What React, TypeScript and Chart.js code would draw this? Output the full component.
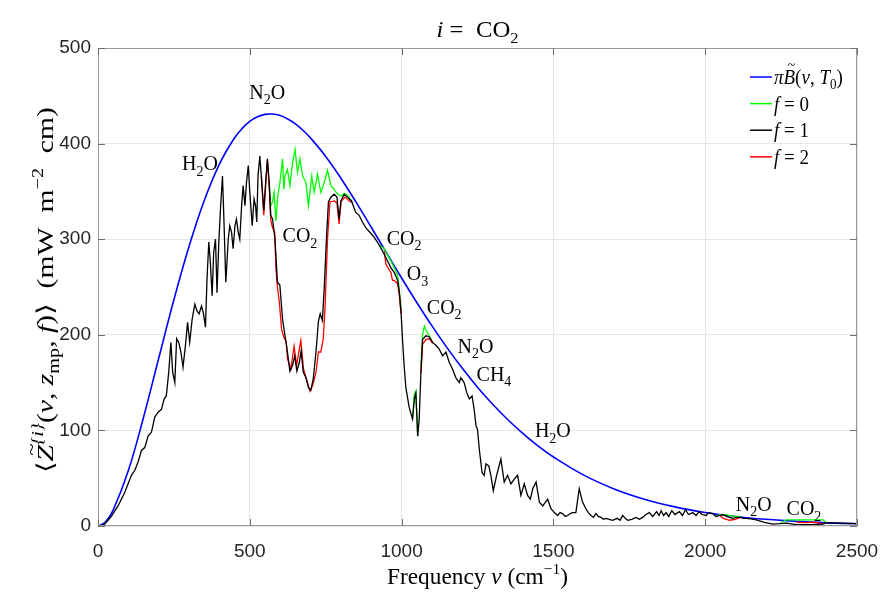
import React, { useEffect, useRef } from 'react';
import { Chart, registerables } from 'chart.js';

Chart.register(...registerables);

// Blackbody reference curve  πB(ν,T0)
const planckNu = [0, 25, 50, 100, 150, 200, 250, 300, 350, 400, 450, 475, 500, 525, 550, 575, 600, 625, 650, 675, 700, 750, 800, 850, 900, 950, 1000, 1050, 1100, 1150, 1200, 1250, 1300, 1350, 1400, 1450, 1500, 1600, 1700, 1800, 1900, 2000, 2100, 2200, 2300, 2400, 2500];
const planckVal = [0, 4.4, 16.6, 58.0, 113.8, 175.4, 236.6, 292.6, 340.5, 378.6, 406.1, 415.9, 423.2, 428.0, 430.6, 430.9, 429.3, 425.7, 420.6, 414.0, 405.9, 386.6, 363.8, 338.8, 312.5, 285.8, 259.4, 233.8, 209.3, 186.3, 164.9, 145.2, 127.3, 111.1, 96.6, 83.6, 72.2, 53.2, 38.8, 28.0, 20.0, 14.2, 10.0, 7.0, 4.8, 3.3, 2.3];

// f = 1 spectrum
const f1Nu = [0, 10, 22, 44, 66, 88, 110, 121, 132, 143, 154, 165, 176, 187, 198, 209, 218, 225, 233, 240, 246, 253, 259, 266, 273, 280, 288, 295, 302, 310, 319, 326, 333, 341, 347, 354, 359, 365, 370, 376, 381, 387, 392, 398, 404, 410, 415, 421, 429, 434, 440, 445, 451, 456, 462, 467, 473, 478, 484, 489, 495, 500, 508, 514, 519, 523, 527, 533, 538, 546, 553, 558, 564, 569, 575, 583, 591, 599, 608, 616, 624, 632, 641, 648, 655, 663, 669, 676, 685, 693, 701, 709, 718, 726, 732, 739, 745, 753, 759, 767, 778, 787, 794, 800, 811, 822, 835, 849, 860, 871, 882, 899, 910, 926, 943, 954, 965, 976, 987, 992, 998, 1003, 1009, 1014, 1025, 1036, 1042, 1047, 1053, 1058, 1064, 1069, 1080, 1091, 1102, 1113, 1124, 1135, 1146, 1157, 1168, 1179, 1190, 1195, 1206, 1214, 1223, 1232, 1239, 1245, 1250, 1256, 1265, 1272, 1278, 1287, 1294, 1302, 1313, 1327, 1338, 1349, 1360, 1371, 1382, 1393, 1404, 1415, 1424, 1432, 1443, 1454, 1465, 1481, 1492, 1503, 1514, 1522, 1530, 1539, 1547, 1555, 1563, 1574, 1585, 1596, 1607, 1615, 1624, 1632, 1640, 1648, 1657, 1665, 1673, 1684, 1695, 1710, 1720, 1728, 1737, 1745, 1758, 1772, 1783, 1794, 1805, 1816, 1827, 1840, 1848, 1855, 1863, 1871, 1880, 1890, 1900, 1915, 1925, 1935, 1945, 1959, 1970, 1980, 1990, 2003, 2012, 2025, 2035, 2047, 2058, 2070, 2080, 2091, 2103, 2115, 2125, 2135, 2150, 2168, 2195, 2223, 2245, 2267, 2300, 2350, 2388, 2400, 2450, 2500];
const f1Val = [0, 0.5, 2, 10, 21, 35, 53, 58, 67, 79, 82, 94, 98, 114, 119, 122, 133, 136, 161, 192, 161, 150, 196, 192, 182, 166, 189, 213, 192, 216, 232, 225, 222, 230, 223, 208, 258, 297, 276, 241, 286, 300, 244, 297, 335, 366, 318, 255, 300, 314, 307, 290, 314, 321, 307, 300, 335, 356, 335, 359, 377, 349, 314, 342, 335, 318, 366, 387, 366, 330, 363, 384, 359, 325, 321, 300, 255, 252, 216, 199, 182, 162, 168, 178, 162, 171, 183, 161, 155, 145, 142, 154, 182, 214, 222, 215, 248, 304, 339, 344, 347, 344, 321, 340, 347, 344, 340, 328, 325, 318, 312, 306, 302, 294, 284, 277, 270, 265, 257, 246, 225, 195, 165, 145, 124, 112, 133, 139, 94, 112, 164, 195, 199, 198, 192, 189, 185, 178, 182, 171, 164, 155, 150, 155, 150, 140, 133, 136, 122, 105, 101, 80, 56, 53, 65, 63, 53, 37, 53, 70, 46, 53, 44, 49, 53, 32, 44, 32, 28, 39, 46, 25, 21, 28, 18, 14, 11, 14, 13, 10, 11, 13, 14, 14, 39, 25, 18, 14, 11, 9, 13, 10, 9, 7, 8, 7, 6, 8, 6, 11, 8, 6, 7, 9, 7, 9, 12, 14, 10, 15, 11, 16, 11, 14, 10, 16, 12, 15, 11, 17, 12, 14, 11, 15, 12, 11, 14, 13, 10, 11, 12, 10, 9, 8, 9, 9, 8, 8, 7.5, 6.5, 3.8, 2, 2.4, 3, 1.5, 1.5, 2, 3.5, 3, 2.5];

// f = 0 spectrum (only where it departs from f = 1; null = gap)
const f0Nu = [564, 569, 575, 580, 586, 592, 599, 608, 612, 616, 624, 632, 641, 649, 657, 665, 674, 685, 693, 704, 712, 723, 734, 745, 756, 767, 778, 787, 800, 811, 822, 835, 900, 926, 943, 954, 965, 976, 987, 992, 998, 1020, 1036, 1042, 1047, 1053, 1060, 1064, 1069, 1075, 1080, 1091, 1102, 1500, 2035, 2047, 2070, 2091, 2115, 2200, 2245, 2267, 2300, 2350, 2388, 2400];
const f0Val = [359, 335, 339, 349, 319, 345, 359, 384, 352, 366, 373, 356, 380, 394, 370, 384, 366, 359, 335, 366, 349, 368, 349, 359, 372, 356, 352, 348, 345, 348, 346, 340, null, 294, 290, 283, 277, 270, 262, 248, 225, null, 112, 138, 141, 94, null, 168, 200, 209, 205, 199, 192, null, 10, 12, 12, 10, 10, null, 2.4, 6.5, 6.5, 6.5, 6.5, 3.5];

// f = 2 spectrum (only where it departs from f = 1; null = gap)
const f2Nu = [538, 546, 553, 558, 564, 569, 575, 582, 586, 591, 597, 605, 613, 620, 624, 635, 646, 654, 668, 677, 690, 698, 707, 718, 726, 734, 742, 748, 756, 764, 778, 787, 794, 801, 814, 827, 840, 900, 943, 948, 965, 970, 976, 987, 992, 998, 1020, 1064, 1069, 1080, 1091, 1102, 1500, 2047, 2060, 2080, 2100, 2115, 2200, 2300, 2330, 2360, 2388];
const f2Val = [366, 325, 360, 382, 355, 320, 312, 307, 270, 250, 235, 205, 197, 193, 175, 164, 188, 168, 194, 164, 150, 141, 147, 161, 182, 182, 196, 230, 300, 339, 340, 338, 316, 340, 344, 340, 338, null, 287, 274, 265, 257, 257, 253, 243, 222, null, 160, 190, 195, 196, 191, null, 11, 8, 6, 7, 9, null, 4, 3.5, 4, 2];

const xTicks = [0, 500, 1000, 1500, 2000, 2500];
const yTicks = [0, 100, 200, 300, 400, 500];

const annotations: { label: string; nu: number; val: number }[] = [
  { label: 'H2O', nu: 277, val: 372 },
  { label: 'N2O', nu: 498, val: 447 },
  { label: 'CO2', nu: 608, val: 297 },
  { label: 'CO2', nu: 951, val: 294 },
  { label: 'O3', nu: 1017, val: 257 },
  { label: 'CO2', nu: 1083, val: 222 },
  { label: 'N2O', nu: 1184, val: 181 },
  { label: 'CH4', nu: 1247, val: 152 },
  { label: 'H2O', nu: 1439, val: 93 },
  { label: 'N2O', nu: 2101, val: 16 },
  { label: 'CO2', nu: 2268, val: 11.5 },
];

const COLORS = { planck: '#0000ff', f0: '#00ff00', f1: '#000000', f2: '#ff0000' };

type Seg = { t: string; it?: boolean; pos?: 'sub' | 'sup'; tilde?: boolean };
const SERIF = '"Liberation Serif", "DejaVu Serif", "Times New Roman", serif';

function formula(s: string): Seg[] {
  const out: Seg[] = [];
  for (const ch of s) {
    if (/[0-9]/.test(ch)) out.push({ t: ch, pos: 'sub' });
    else out.push({ t: ch });
  }
  return out;
}

function drawRich(ctx: CanvasRenderingContext2D, segs: Seg[], x: number, y: number, size: number, align: 'left' | 'center', stretch = 1.1, targetW?: number) {
  const font = (s: Seg) => `${s.it ? 'italic ' : ''}${s.pos ? Math.round(size * 0.68) : size}px ${SERIF}`;
  let total = 0;
  const ws = segs.map((s) => {
    ctx.font = font(s);
    const w = ctx.measureText(s.t).width;
    total += w;
    return w;
  });
  const sx = targetW ? targetW / total : 1;
  ctx.save();
  ctx.translate(x, y);
  ctx.scale(sx, stretch);
  ctx.textBaseline = 'alphabetic';
  ctx.textAlign = 'left';
  let cx = align === 'center' ? -total / 2 : 0;
  segs.forEach((s, i) => {
    ctx.font = font(s);
    const dy = s.pos === 'sub' ? size * 0.25 : s.pos === 'sup' ? -size * 0.42 : 0;
    ctx.fillText(s.t, cx, dy);
    if (s.tilde) {
      ctx.font = `${Math.round(size * 0.75)}px ${SERIF}`;
      const tw = ctx.measureText('~').width;
      ctx.fillText('~', cx + ws[i] / 2 - tw / 2 + size * 0.12, dy - size * 0.66);
    }
    cx += ws[i];
  });
  ctx.restore();
}

const overlayPlugin = {
  id: 'overlay',
  afterDraw(chart: any) {
    const ctx: CanvasRenderingContext2D = chart.ctx;
    const xs = chart.scales.x;
    const ys = chart.scales.y;
    const a = chart.chartArea;
    ctx.save();
    // frame
    ctx.strokeStyle = '#9a9a9a';
    ctx.lineWidth = 1;
    ctx.strokeRect(Math.round(a.left) + 0.5, Math.round(a.top) + 0.5, Math.round(a.right - a.left) - 1, Math.round(a.bottom - a.top) - 1);
    // inward tick marks
    ctx.strokeStyle = '#6e6e6e';
    ctx.beginPath();
    for (const v of xTicks) {
      const px = Math.round(xs.getPixelForValue(v)) + 0.5;
      ctx.moveTo(px, a.bottom);
      ctx.lineTo(px, a.bottom - 7);
      ctx.moveTo(px, a.top);
      ctx.lineTo(px, a.top + 7);
    }
    for (const v of yTicks) {
      const py = Math.round(ys.getPixelForValue(v)) + 0.5;
      ctx.moveTo(a.left, py);
      ctx.lineTo(a.left + 7, py);
      ctx.moveTo(a.right, py);
      ctx.lineTo(a.right - 7, py);
    }
    ctx.stroke();

    ctx.fillStyle = '#000';
    // molecule annotations
    for (const an of annotations) {
      drawRich(ctx, formula(an.label), xs.getPixelForValue(an.nu), ys.getPixelForValue(an.val), 20, 'left');
    }

    const cxPlot = (a.left + a.right) / 2;
    // title
    drawRich(ctx, [{ t: 'i', it: true }, { t: ' =  CO' }, { t: '2', pos: 'sub' }], cxPlot, 37, 21, 'center', 1.1, 82);

    // x label
    drawRich(ctx, [{ t: 'Frequency ' }, { t: 'ν', it: true }, { t: ' (cm' }, { t: '−1', pos: 'sup' }, { t: ')' }], cxPlot, 584, 21, 'center', 1.1, 181);

    // y label
    ctx.save();
    ctx.translate(45, 290);
    ctx.rotate(-Math.PI / 2);
    drawRich(
      ctx,
      [
        { t: '⟨' },
        { t: 'Z', it: true, tilde: true },
        { t: '{i}', pos: 'sup', it: true },
        { t: '(' },
        { t: 'ν', it: true },
        { t: ', ' },
        { t: 'z', it: true },
        { t: 'mp', pos: 'sub' },
        { t: ', ' },
        { t: 'f', it: true },
        { t: ')⟩  (mW  m' },
        { t: '−2', pos: 'sup' },
        { t: '  cm)' },
      ],
      0,
      8,
      22,
      'center',
      1.05,
      366
    );
    ctx.restore();

    // legend
    const legend: { segs: Seg[]; color: string }[] = [
      { segs: [{ t: 'π', it: true }, { t: 'B', it: true, tilde: true }, { t: '(' }, { t: 'ν', it: true }, { t: ', ' }, { t: 'T', it: true }, { t: '0', pos: 'sub' }, { t: ')' }], color: COLORS.planck },
      { segs: [{ t: 'f', it: true }, { t: ' = 0' }], color: COLORS.f0 },
      { segs: [{ t: 'f', it: true }, { t: ' = 1' }], color: COLORS.f1 },
      { segs: [{ t: 'f', it: true }, { t: ' = 2' }], color: COLORS.f2 },
    ];
    const lx = a.right - 107;
    legend.forEach((item, i) => {
      const cy = a.top + 29 + i * 26.6;
      ctx.strokeStyle = item.color;
      ctx.lineWidth = 1.5;
      ctx.beginPath();
      ctx.moveTo(lx, cy);
      ctx.lineTo(lx + 22, cy);
      ctx.stroke();
      ctx.fillStyle = '#000';
      drawRich(ctx, item.segs, lx + 24, cy + 7, 19, 'left');
    });
    ctx.restore();
  },
};

function pts(nu: number[], val: (number | null)[]) {
  return nu.map((x, i) => ({ x, y: val[i] }));
}

export default function App() {
  const ref = useRef<HTMLCanvasElement | null>(null);
  useEffect(() => {
    if (!ref.current) return;
    const tickFont = { family: '"Liberation Sans", Arial, Helvetica, sans-serif', size: 19 };
    const chart = new Chart(ref.current, {
      type: 'line',
      data: {
        datasets: [
          { label: 'f = 1', data: pts(f1Nu, f1Val), borderColor: COLORS.f1, borderWidth: 1.3, pointRadius: 0, tension: 0, order: 0 },
          { label: 'f = 2', data: pts(f2Nu, f2Val), borderColor: COLORS.f2, borderWidth: 1.3, pointRadius: 0, tension: 0, spanGaps: false, order: 1 },
          { label: 'f = 0', data: pts(f0Nu, f0Val), borderColor: COLORS.f0, borderWidth: 1.3, pointRadius: 0, tension: 0, spanGaps: false, order: 2 },
          { label: 'πB(ν,T0)', data: pts(planckNu, planckVal), borderColor: COLORS.planck, borderWidth: 1.6, pointRadius: 0, tension: 0.4, order: 3 },
        ],
      },
      options: {
        animation: false,
        responsive: false,
        parsing: false as any,
        layout: { padding: { left: 0, top: 48, right: 28, bottom: 0 } },
        plugins: { legend: { display: false }, tooltip: { enabled: false }, title: { display: false } },
        scales: {
          x: {
            type: 'linear',
            min: 0,
            max: 2500,
            afterBuildTicks: (s: any) => {
              s.ticks = xTicks.map((v) => ({ value: v }));
            },
            afterFit: (s: any) => {
              s.height = 69;
              s.paddingLeft = 0;
              s.paddingRight = 0;
            },
            ticks: { font: tickFont, color: '#262626', padding: 14, maxRotation: 0, autoSkip: false, callback: (v: any) => String(v) },
            grid: { color: '#e6e6e6', lineWidth: 1, drawTicks: false },
            border: { display: false },
          },
          y: {
            type: 'linear',
            min: 0,
            max: 500,
            afterBuildTicks: (s: any) => {
              s.ticks = yTicks.map((v) => ({ value: v }));
            },
            afterFit: (s: any) => {
              s.width = 98;
              s.paddingTop = 0;
              s.paddingBottom = 0;
            },
            ticks: { font: tickFont, color: '#262626', padding: 7, callback: (v: any) => String(v) },
            grid: { color: '#e6e6e6', lineWidth: 1, drawTicks: false },
            border: { display: false },
          },
        },
      },
      plugins: [overlayPlugin],
    } as any);
    return () => chart.destroy();
  }, []);
  return (
    <div style={{ position: 'fixed', left: 0, top: 0, width: 885, height: 595, background: '#fff' }}>
      <canvas ref={ref} width={885} height={595} style={{ width: 885, height: 595 }} />
    </div>
  );
}
